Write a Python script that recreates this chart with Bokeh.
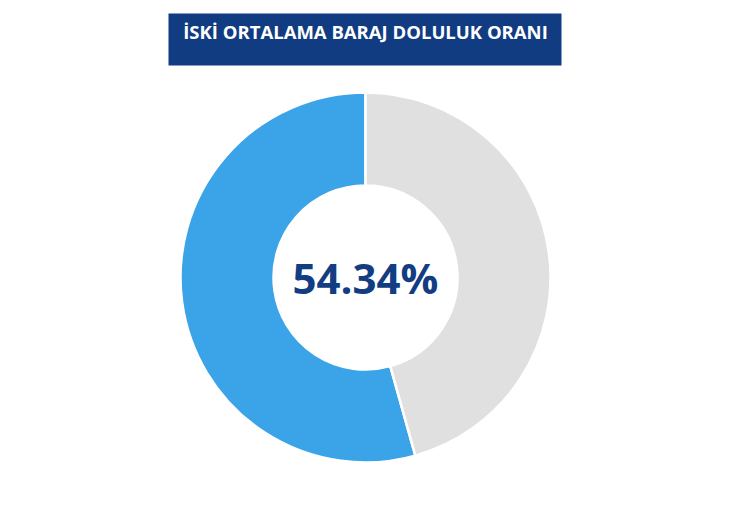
import numpy as np
from bokeh.plotting import figure
from bokeh.models import Range1d, ColumnDataSource
from bokeh.core.properties import value
from bokeh.embed import file_html
from bokeh.resources import INLINE

# Data
title = "İSKİ ORTALAMA BARAJ DOLULUK ORANI"
categories = ["Dolu", "Boş"]
percentages = [54.34, 45.66]
colors = ["#3ba3e8", "#e0e0e0"]
center_label = "54.34%"

W, H = 729, 503
p = figure(width=W, height=H, output_backend="svg", toolbar_location=None,
           x_range=Range1d(0, W), y_range=Range1d(0, H), min_border=0,
           outline_line_color=None)
p.axis.visible = False
p.grid.visible = False
p.background_fill_color = "white"

cx, cy = 365, 503 - 277
r_out, r_in = 185, 92

vals = np.array(percentages)
frac = vals / vals.sum()
start = np.pi / 2 + 2 * np.pi * np.concatenate([[0], np.cumsum(frac)[:-1]])
end = np.pi / 2 + 2 * np.pi * np.cumsum(frac)
src = ColumnDataSource(dict(start=start, end=end, color=colors, cat=categories))
p.annular_wedge(x=cx, y=cy, inner_radius=r_in, outer_radius=r_out,
                start_angle="start", end_angle="end", fill_color="color",
                line_color="white", line_width=2.5, source=src)

# title box
p.quad(left=168, right=561, top=503 - 13, bottom=503 - 65, fill_color="#113c82", line_color=None)
p.text(x=[365], y=[503 - 31], text=[title], text_color="white",
       text_font=value("Open Sans"), text_font_style="bold", text_font_size="18.5px",
       text_align="center", text_baseline="middle")

p.text(x=[cx], y=[cy], text=[center_label], text_color="#133d82",
       text_font=value("Open Sans"), text_font_style="bold", text_font_size="42px",
       text_align="center", text_baseline="middle")

open("out.html", "w").write(file_html(p, INLINE))
